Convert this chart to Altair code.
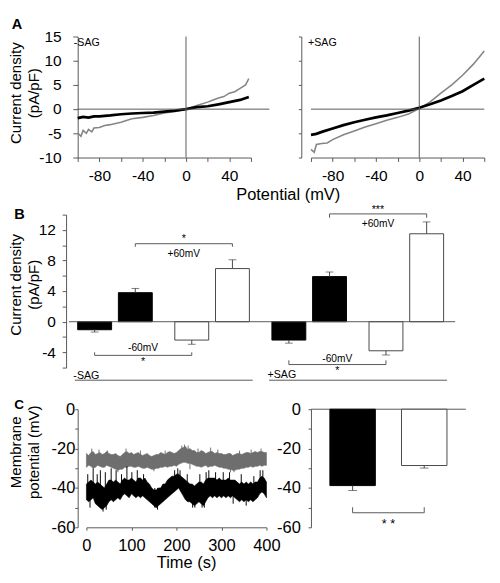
import altair as alt
import pandas as pd

FONT = "Liberation Sans"
AXC = "#555555"
GRAY_A = "#858585"
GRAY_C = "#6e6e6e"

# ---------------- Panel A: I-V traces ----------------
a_minus_black_v = [-100, -95, -90, -85, -80, -70, -60, -50, -40, -30, -20, -10, 0, 10, 20, 30, 40, 50, 58]
a_minus_black_i = [-1.85, -1.6, -1.75, -1.5, -1.5, -1.3, -1.05, -0.9, -0.8, -0.7, -0.5, -0.3, 0.0, 0.4, 0.6, 1.0, 1.45, 1.9, 2.5]
a_minus_gray_v = [-100, -97, -95, -92, -90, -87, -85, -80, -75, -70, -60, -50, -40, -30, -20, -10, 0, 10, 20, 25, 30, 35, 40, 45, 50, 55, 58]
a_minus_gray_i = [-4.9, -5.6, -4.4, -5.0, -4.2, -4.7, -3.9, -3.8, -3.4, -3.2, -2.7, -2.0, -1.7, -1.3, -0.8, -0.5, 0.0, 0.75, 1.45, 1.9, 2.3, 2.6, 3.3, 3.6, 4.3, 5.0, 6.3]
a_plus_black_v = [-100, -95, -90, -80, -70, -60, -50, -40, -30, -20, -10, 0, 10, 20, 30, 40, 50, 60]
a_plus_black_i = [-5.3, -5.1, -4.7, -4.0, -3.3, -2.7, -2.2, -1.7, -1.3, -0.8, -0.3, 0.3, 1.0, 1.8, 2.7, 3.7, 5.0, 6.3]
a_plus_gray_v = [-100, -97, -95, -90, -85, -80, -70, -60, -50, -40, -30, -20, -10, 0, 10, 20, 30, 40, 50, 60]
a_plus_gray_i = [-8.3, -8.9, -7.3, -7.1, -7.0, -6.3, -5.3, -4.5, -3.7, -3.0, -2.3, -1.7, -1.0, 0.1, 1.5, 3.3, 5.0, 7.0, 9.3, 12.0]

a_x_ticks = [-100, -80, -60, -40, -20, 0, 20, 40, 60]
a_y_ticks = [-10, -5, 0, 5, 10, 15]

# ---------------- Panel B: bars ----------------
b_groups = ["-SAG black", "-SAG white", "+SAG black", "+SAG white"]
b_volts = ["-60mV", "+60mV"]
b_group = ["-SAG black", "-SAG black", "-SAG white", "-SAG white", "+SAG black", "+SAG black", "+SAG white", "+SAG white"]
b_volt = ["-60mV", "+60mV", "-60mV", "+60mV", "-60mV", "+60mV", "-60mV", "+60mV"]
b_mean = [-1.05, 3.8, -2.4, 6.95, -2.4, 5.9, -3.8, 11.5]
b_errend = [-1.35, 4.35, -2.95, 8.1, -2.8, 6.5, -4.35, 13.05]
b_fill = ["black", "black", "white", "white", "black", "black", "white", "white"]
b_stroke = ["black", "black", "#444444", "#444444", "black", "black", "#444444", "#444444"]
b_y_ticks = [-6, -4, -2, 0, 2, 4, 6, 8, 10, 12, 14]

# significance brackets
br_from = ["-SAG black", "-SAG black", "+SAG black", "+SAG black"]
br_to = ["-SAG white", "-SAG white", "+SAG white", "+SAG white"]
br_volt = ["+60mV", "-60mV", "+60mV", "-60mV"]
br_level = [10.2, -4.4, 14.1, -5.6]
br_end = [9.8, -4.0, 13.6, -5.05]
br_stars = ["*", "*", "***", "*"]
br_star_y = [10.85, -5.3, 14.65, -6.5]
br_label = ["+60mV", "-60mV", "+60mV", "-60mV"]
br_label_y = [8.85, -3.5, 12.75, -4.9]

sag_names = ["-SAG", "+SAG"]
sag_first = ["-SAG black", "+SAG black"]
sag_last = ["-SAG white", "+SAG white"]
sag_line_y = [-7.65, -7.65]
sag_text_y = [-7.1, -6.95]

# ---------------- Panel C: membrane potential ----------------
c_t = list(range(0, 401, 5))
c_gray_lo = [-29.5, -28.5, -29, -30, -29.5, -28.5, -29, -29.5, -29.5, -28.5,
             -29, -29.5, -30, -30.5, -31, -30.5, -30.5, -29.5, -29.5, -29,
             -29, -29.5, -29.5, -29, -29.5, -30, -30, -29.5, -30, -30.5,
             -30.5, -30, -30, -29.5, -29.5, -29, -29.5, -29, -29, -28.5,
             -29, -28, -27.5, -27, -27, -27.5, -27.5, -28, -28.5, -29,
             -29, -29.5, -29, -28.5, -29.5, -29, -29, -28.5, -29, -29.5,
             -29.5, -30, -30, -30.5, -30.5, -31, -31, -30.5, -30.5, -30,
             -30, -29.5, -29.5, -29, -29.5, -29, -29, -28.5, -29, -28.5,
             -28.5]
c_gray_hi = [-22.5, -23.5, -22, -21.5, -23, -22.5, -22, -23, -22.5, -21.5,
             -22.5, -23, -23, -22.5, -23.5, -24, -23, -22, -21.5, -22.5,
             -22, -23, -22.5, -22, -23, -23.5, -23, -22.5, -23.5, -24,
             -23.5, -23, -23, -22, -22.5, -23, -22, -21.5, -22, -22.5,
             -22, -21, -20, -19.5, -19, -20.5, -20, -21, -21, -22,
             -22, -21, -21.5, -22.5, -22, -21.5, -21.5, -22.5, -22, -22.5,
             -22.5, -23, -23, -22.5, -22.5, -23.5, -23, -22.5, -22.5, -23,
             -22.5, -22, -22, -22.5, -22, -21.5, -22, -21.5, -21.5, -22,
             -22]
c_black_lo = [-46, -47, -46, -45, -48, -49, -50, -51, -50, -49,
              -47, -46, -47, -46, -45, -46, -44, -43, -44, -45,
              -43, -44, -45, -44, -45, -44, -45, -46, -47, -48,
              -49, -50, -49, -48, -47, -46, -45, -44, -43, -42,
              -41, -40, -42, -44, -46, -47, -47, -48, -49, -48,
              -47, -48, -49, -47, -45, -44, -45, -44, -45, -44,
              -45, -44, -45, -44, -45, -44, -45, -46, -47, -46,
              -47, -46, -47, -46, -47, -46, -45, -43, -42, -43,
              -45]
c_black_hi = [-38, -37, -36, -37, -38, -37, -38, -39, -40, -38,
              -36, -36, -37, -36, -37, -38, -36, -35, -36, -36,
              -35, -36, -37, -35, -35, -36, -35, -37, -38, -40,
              -41, -41, -40, -40, -38, -38, -36, -35, -34, -34,
              -33, -33, -34, -35, -36, -37, -38, -38, -39, -38,
              -37, -37, -38, -36, -35, -35, -35, -35, -36, -35,
              -36, -36, -36, -35, -36, -36, -36, -37, -38, -37,
              -38, -37, -38, -37, -38, -37, -37, -35, -34, -35,
              -37]
# brief excursions of the traces beyond their noise band: time, tip value
c_black_spike_t = [3, 15, 24, 31, 42, 55, 66, 78, 90, 101, 113, 127, 196, 203, 208, 224, 252, 266, 272,
                   287, 304, 318, 344, 372, 386, 392, 8, 37, 44, 152, 158, 236, 241, 257, 262, 326, 355]
c_black_spike_v = [-33, -30, -33, -31, -32, -30, -31, -33, -29, -32, -31, -33, -31, -30, -31, -33, -33, -32, -31,
                   -32, -32, -32, -33, -34, -31, -31, -50, -52, -51, -50, -51, -50, -50, -50, -50, -48, -49]
c_gray_spike_t = [12, 28, 47, 88, 120, 175, 212, 218, 226, 248, 276, 292, 340, 366, 388, 70, 150, 230, 320, 328]
c_gray_spike_v = [-20, -20.5, -21, -20, -21, -21, -18.5, -18, -18.5, -20, -19.5, -20.5, -21, -20.5, -20,
                  -32, -31.5, -30.5, -32, -32]
c_black_core = -40
c_gray_core = -26
c_x_ticks = [0, 100, 200, 300, 400]
c_y_ticks = [-60, -50, -40, -30, -20, -10, 0]

c_conds = ["black", "white"]
c_mean = [-38.8, -28.6]
c_errend = [-41.3, -29.9]
c_fill = ["black", "white"]
c_stroke = ["black", "#444444"]
c_br_level = -52.6
c_br_end = -49.8
c_star_y = -58.2


def lbl(mult):
    return f"datum.value % {mult} === 0 ? '' + datum.value : ''"


one = pd.DataFrame({"z": [0]})

# ============ Panel A ============
xA_scale_left = alt.Scale(domain=[-100, 60], nice=False, zero=False, range=[0, 179])
xA_scale_right = alt.Scale(domain=[-100, 60], nice=False, zero=False)
yA_scale = alt.Scale(domain=[-10, 15], nice=False, zero=False)

xA_axis_left = alt.Axis(values=a_x_ticks, labelExpr=lbl(40), tickSize=4, labelPadding=7,
                        labelFontSize=16, title="Potential (mV)", titleFontSize=17,
                        titleX=217, titleY=38, titleAlign="center", titleBaseline="middle")
xA_axis_right = alt.Axis(values=a_x_ticks, labelExpr=lbl(40), tickSize=4, labelPadding=7,
                         labelFontSize=16, title="")
yA_axis_left = alt.Axis(values=a_y_ticks, labelExpr="'' + datum.value", tickSize=5, labelPadding=12,
                        labelFontSize=16, title=["Current density", "(pA/pF)"], titleFontSize=15.5,
                        titleLineHeight=19, titleAngle=270, titleX=-64, titleY=58,
                        titleAlign="center", titleBaseline="middle")
yA_axis_right = alt.Axis(values=a_y_ticks, labels=False, tickSize=3, offset=10, title="")


def iv_panel(bv, bi, gv, gi, xscale, xaxis, yaxis, tag, tag_x, letter):
    X = lambda f: alt.X(f, scale=xscale, axis=xaxis)
    Y = lambda f: alt.Y(f, scale=yA_scale, axis=yaxis)
    gray = alt.Chart(pd.DataFrame({"v": gv, "i": gi})).mark_line(color=GRAY_A, strokeWidth=1.6).encode(
        x=X("v:Q"), y=Y("i:Q"))
    black = alt.Chart(pd.DataFrame({"v": bv, "i": bi})).mark_line(color="black", strokeWidth=2.8).encode(
        x=X("v:Q"), y=Y("i:Q"))
    hz = alt.Chart(one).mark_rule(color=AXC, strokeWidth=1).encode(y=Y("z:Q"))
    vt = alt.Chart(one).mark_rule(color=AXC, strokeWidth=1).encode(x=X("z:Q"))
    tg = alt.Chart(one).mark_text(text=tag, align="left", baseline="middle", fontSize=11, font=FONT,
                                  color="black").encode(x=alt.value(tag_x), y=alt.value(7))
    layers = [gray, black, hz, vt, tg]
    if letter:
        layers.append(alt.Chart(one).mark_text(text=letter, align="left", baseline="top", fontSize=15,
                                               fontWeight="bold", font=FONT, color="black").encode(
            x=alt.value(-68), y=alt.value(-20)))
    return alt.layer(*layers)


A_left = iv_panel(a_minus_black_v, a_minus_black_i, a_minus_gray_v, a_minus_gray_i,
                  xA_scale_left, xA_axis_left, yA_axis_left, "-SAG", -4, "A").properties(width=198, height=125)
A_right = iv_panel(a_plus_black_v, a_plus_black_i, a_plus_gray_v, a_plus_gray_i,
                   xA_scale_right, xA_axis_right, yA_axis_right, "+SAG", -3, None).properties(width=179, height=125)

# ============ Panel B ============
xB_scale = alt.Scale(domain=b_groups, range=[0, 378], paddingInner=0.232, paddingOuter=0)
xB = alt.X("group:N", sort=b_groups, scale=xB_scale, axis=None)
xoB = alt.XOffset("volt:N", sort=b_volts, scale=alt.Scale(domain=b_volts, paddingInner=0.1667, paddingOuter=0))
yB_scale = alt.Scale(domain=[-6, 14], range=[174, 16], nice=False, zero=False)
yB_axis = alt.Axis(values=b_y_ticks, labelExpr=lbl(4), tickSize=4, labelPadding=7, labelFontSize=16,
                   offset=12, title=["Current density", "(pA/pF)"], titleFontSize=15.5, titleLineHeight=19,
                   titleAngle=270, titleX=-52, titleY=88, titleAlign="center", titleBaseline="middle")
YB = lambda f: alt.Y(f, scale=yB_scale, axis=yB_axis, stack=None)

bars_df = pd.DataFrame({"group": b_group, "volt": b_volt, "mean": b_mean, "err": b_errend,
                        "fill": b_fill, "stroke": b_stroke})
b_bars = alt.Chart(bars_df).mark_bar(strokeWidth=1).encode(
    x=xB, xOffset=xoB, y=YB("mean:Q"),
    fill=alt.Fill("fill:N", scale=None), stroke=alt.Stroke("stroke:N", scale=None))
b_err = alt.Chart(bars_df).mark_rule(color="#444444", strokeWidth=1).encode(
    x=xB, xOffset=xoB, y=YB("mean:Q"), y2="err:Q")
b_cap = alt.Chart(bars_df).mark_tick(color="#444444", orient="horizontal", size=8, thickness=1).encode(
    x=xB, xOffset=xoB, y=YB("err:Q"))
b_zero = alt.Chart(one).mark_rule(color=AXC, strokeWidth=1).encode(
    x=alt.value(-9), x2=alt.value(390), y=YB("z:Q"))

br_rows = []
for k in range(len(br_from)):
    pts = [(br_from[k], br_end[k]), (br_from[k], br_level[k]), (br_to[k], br_level[k]), (br_to[k], br_end[k])]
    for o, (g, yv) in enumerate(pts):
        br_rows.append({"id": k, "ord": o, "group": g, "volt": br_volt[k], "y": yv})
b_br = alt.Chart(pd.DataFrame(br_rows)).mark_line(color=AXC, strokeWidth=1).encode(
    x=xB, xOffset=xoB, y=YB("y:Q"), detail="id:N", order="ord:Q")

lab_df = pd.DataFrame({"group": br_from * 2, "volt": br_volt * 2,
                       "y": br_star_y + br_label_y, "t": br_stars + br_label,
                       "fs": [11] * 4 + [10.5] * 4})
b_lab = alt.Chart(lab_df).mark_text(dx=50, baseline="middle", font=FONT, color="black").encode(
    x=xB, xOffset=xoB, y=YB("y:Q"), text="t:N", size=alt.Size("fs:Q", scale=None))

sag_df = pd.DataFrame({"group": sag_first, "g2": sag_last, "volt": ["-60mV", "-60mV"],
                       "y": sag_line_y, "ty": sag_text_y, "t": sag_names})
b_sagline = alt.Chart(sag_df).mark_rule(color=AXC, strokeWidth=1, xOffset=-41.5, x2Offset=42).encode(
    x=xB, x2="g2:N", y=YB("y:Q"))
b_sagtext = alt.Chart(sag_df).mark_text(align="left", baseline="middle", dx=-22, fontSize=11, font=FONT,
                                        color="black").encode(
    x=xB, xOffset=xoB, y=YB("ty:Q"), text="t:N")
b_letter = alt.Chart(one).mark_text(text="B", align="left", baseline="top", fontSize=15, fontWeight="bold",
                                    font=FONT, color="black").encode(x=alt.value(-65.5), y=alt.value(9))

B = alt.layer(b_bars, b_zero, b_err, b_cap, b_br, b_lab, b_sagline, b_sagtext, b_letter).properties(
    width=200, height=174)

spacer = alt.Chart(one).mark_point(opacity=0).encode(x=alt.value(0), y=alt.value(0)).properties(
    width=1, height=174)

# ============ Panel C ============
xC_scale = alt.Scale(domain=[0, 400], nice=False, zero=False, range=[9, 195])
yC_scale = alt.Scale(domain=[-60, 0], nice=False, zero=False)
xC_axis = alt.Axis(values=c_x_ticks, labelExpr="'' + datum.value", tickSize=3, labelPadding=8,
                   labelFontSize=17, title="Time (s)", titleFontSize=17, titleX=112, titleY=37,
                   titleAlign="center", titleBaseline="middle")
yC_axis = alt.Axis(values=c_y_ticks, labelExpr=lbl(20), tickSize=3, labelPadding=0, labelFontSize=17,
                   title=["Membrane", "potential (mV)"], titleFontSize=15.5, titleLineHeight=19,
                   titleAngle=270, titleX=-64, titleY=44, titleAlign="center", titleBaseline="middle")

c_df = pd.DataFrame({"t": c_t, "glo": c_gray_lo, "ghi": c_gray_hi, "blo": c_black_lo, "bhi": c_black_hi})
gs_df = pd.DataFrame({"t": c_gray_spike_t, "v": c_gray_spike_v, "b": [c_gray_core] * len(c_gray_spike_t)})
bs_df = pd.DataFrame({"t": c_black_spike_t, "v": c_black_spike_v, "b": [c_black_core] * len(c_black_spike_t)})
XC = lambda f: alt.X(f, scale=xC_scale, axis=xC_axis)
YCl = lambda f: alt.Y(f, scale=yC_scale, axis=yC_axis)
c_gray = alt.Chart(c_df).mark_area(color=GRAY_C, stroke=GRAY_C, strokeWidth=0.6).encode(
    x=XC("t:Q"), y=YCl("glo:Q"), y2="ghi:Q")
c_gray_sp = alt.Chart(gs_df).mark_rule(color=GRAY_C, strokeWidth=1).encode(
    x=XC("t:Q"), y=YCl("v:Q"), y2="b:Q")
c_black = alt.Chart(c_df).mark_area(color="black", stroke="black", strokeWidth=0.6).encode(
    x=XC("t:Q"), y=YCl("blo:Q"), y2="bhi:Q")
c_black_sp = alt.Chart(bs_df).mark_rule(color="black", strokeWidth=1).encode(
    x=XC("t:Q"), y=YCl("v:Q"), y2="b:Q")
c_letter = alt.Chart(one).mark_text(text="C", align="left", baseline="top", fontSize=14, fontWeight="bold",
                                    font=FONT, color="black").encode(x=alt.value(-65.5), y=alt.value(-11))
C_left = alt.layer(c_gray_sp, c_gray, c_black_sp, c_black, c_letter).properties(width=195, height=122)

xCr = alt.X("cond:N", sort=c_conds, scale=alt.Scale(domain=c_conds, paddingInner=0.365, paddingOuter=0.264),
            axis=None)
yCr_axis = alt.Axis(values=c_y_ticks, labelExpr=lbl(20), tickSize=3, labelPadding=8, labelFontSize=17,
                    title="")
YC = lambda f: alt.Y(f, scale=yC_scale, axis=yCr_axis, stack=None)
cr_df = pd.DataFrame({"cond": c_conds, "mean": c_mean, "err": c_errend, "fill": c_fill, "stroke": c_stroke})
cr_zero = alt.Chart(one).mark_rule(color=AXC, strokeWidth=1).encode(y=YC("z:Q"))
cr_bars = alt.Chart(cr_df).mark_bar(strokeWidth=1).encode(
    x=xCr, y=YC("mean:Q"),
    fill=alt.Fill("fill:N", scale=None), stroke=alt.Stroke("stroke:N", scale=None))
cr_err = alt.Chart(cr_df).mark_rule(color="#444444", strokeWidth=1).encode(
    x=xCr, y=YC("mean:Q"), y2="err:Q")
cr_cap = alt.Chart(cr_df).mark_tick(color="#444444", orient="horizontal", size=9, thickness=1).encode(
    x=xCr, y=YC("err:Q"))
cr_br_df = pd.DataFrame({"cond": [c_conds[0], c_conds[0], c_conds[1], c_conds[1]],
                         "y": [c_br_end, c_br_level, c_br_level, c_br_end], "ord": [0, 1, 2, 3]})
cr_br = alt.Chart(cr_br_df).mark_line(color=AXC, strokeWidth=1).encode(
    x=xCr, y=YC("y:Q"), order="ord:Q")
cr_star = alt.Chart(pd.DataFrame({"cond": [c_conds[0]], "y": [c_star_y], "t": ["* *"]})).mark_text(
    dx=37, baseline="middle", fontSize=13, font=FONT, color="black").encode(
    x=xCr, y=YC("y:Q"), text="t:N")
C_right = alt.layer(cr_zero, cr_bars, cr_err, cr_cap, cr_br, cr_star).properties(width=160, height=122)

chart = alt.concat(A_left, A_right, B, spacer, C_left, C_right, columns=2,
                   spacing={"row": 43, "column": 41}, bounds="flush", align="none").properties(
    padding={"left": 0, "top": 0, "right": 2, "bottom": 2}
).configure(font=FONT).configure_view(strokeWidth=0).configure_axis(
    grid=False, domainColor=AXC, tickColor=AXC, labelColor="black", titleColor="black",
    labelFont=FONT, titleFont=FONT, titleFontWeight="normal", labelFlush=False, labelOverlap=False,
    domainWidth=1, tickWidth=1
)

chart.save("out.html", embed_options={"renderer": "svg", "actions": False})
